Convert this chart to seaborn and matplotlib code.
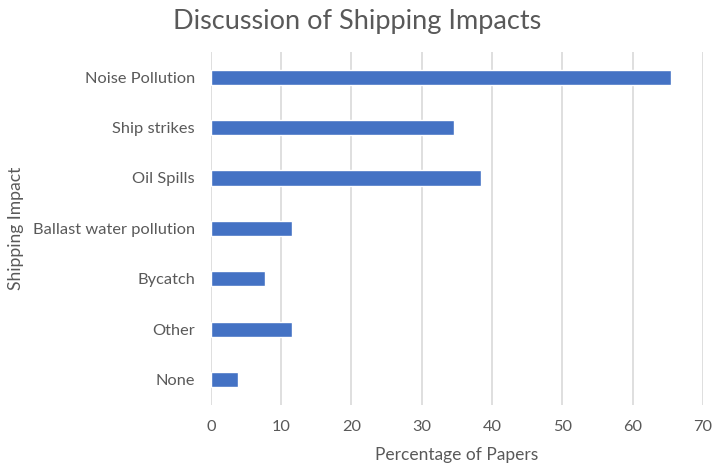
import matplotlib
matplotlib.use("Agg")
import matplotlib.pyplot as plt
import seaborn as sns
import pandas as pd

impacts = ["Noise Pollution", "Ship strikes", "Oil Spills", "Ballast water pollution",
           "Bycatch", "Other", "None"]
percent_papers = [65.4, 34.6, 38.5, 11.5, 7.7, 11.5, 3.8]
x_ticks = [0, 10, 20, 30, 40, 50, 60, 70]

df = pd.DataFrame({"impact": impacts, "pct": percent_papers})

sns.set_theme(style="white")
plt.rcParams["font.family"] = ["Lato", "DejaVu Sans"]

text_color = "#595959"
fig = plt.figure(figsize=(7.15, 4.68), dpi=100)
ax = fig.add_axes([0.295, 0.135, 0.688, 0.754])

sns.barplot(data=df, x="pct", y="impact", order=impacts, orient="h",
            color="#4472C4", saturation=1, width=0.3, ax=ax, zorder=3)

ax.set_xlim(0, 70)
ax.set_xticks(x_ticks)
ax.set_xticklabels([str(t) for t in x_ticks])
ax.grid(axis="x", color="#d9d9d9", linewidth=1.2, zorder=0)
ax.grid(axis="y", visible=False)
for s in ax.spines.values():
    s.set_visible(False)

ax.tick_params(axis="both", length=0, labelsize=11.8, colors=text_color)
ax.tick_params(axis="x", pad=11)
ax.tick_params(axis="y", pad=11.5)

ax.set_xlabel("Percentage of Papers", fontsize=12.5, color=text_color, labelpad=9)
ax.set_ylabel("Shipping Impact", fontsize=12.6, color=text_color, labelpad=6)
fig.text(0.5, 0.955, "Discussion of Shipping Impacts", ha="center", va="center",
         fontsize=19.5, color=text_color)

fig.savefig("out.png", dpi=100)
